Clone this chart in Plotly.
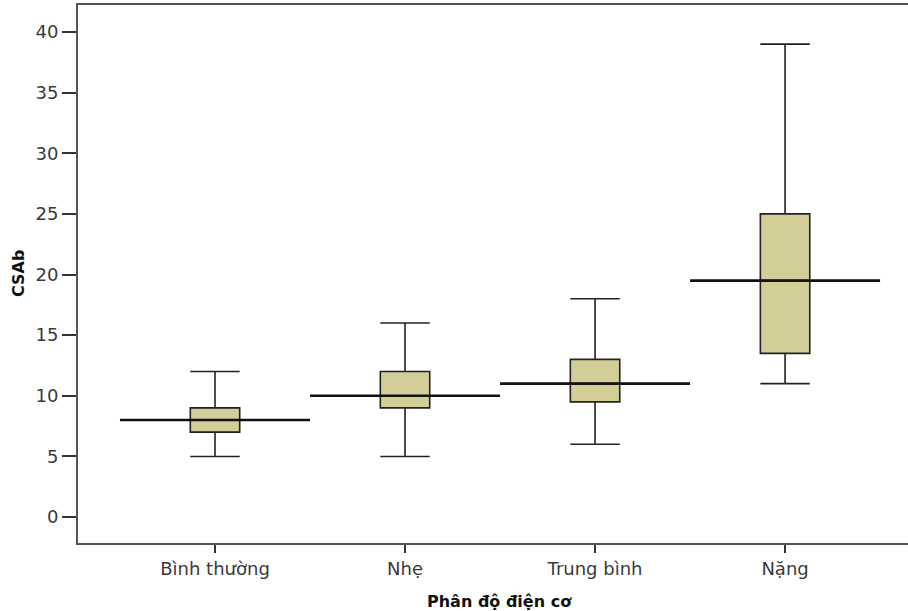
import plotly.graph_objects as go

categories = ["Bình thường", "Nhẹ", "Trung bình", "Nặng"]
lower = [5, 5, 6, 11]
q1 = [7, 9, 9.5, 13.5]
median = [8, 10, 11, 19.5]
q3 = [9, 12, 13, 25]
upper = [12, 16, 18, 39]
y_ticks = [0, 5, 10, 15, 20, 25, 30, 35, 40]

pos = list(range(len(categories)))

fig = go.Figure()
fig.add_trace(go.Box(
    x=pos, q1=q1, median=median, q3=q3, lowerfence=lower, upperfence=upper,
    width=0.26, whiskerwidth=1, fillcolor="#D3CE98",
    line=dict(color="#222222", width=1.6), boxpoints=False, showlegend=False,
    hoverinfo="skip",
))
# wide median lines
mx, my = [], []
for i, m in zip(pos, median):
    mx += [i - 0.5, i + 0.5, None]
    my += [m, m, None]
fig.add_trace(go.Scatter(x=mx, y=my, mode="lines", line=dict(color="#111111", width=2.6),
                         showlegend=False, hoverinfo="skip"))

fig.update_layout(
    width=908, height=611, margin=dict(l=78, r=0, t=5, b=68),
    plot_bgcolor="white", paper_bgcolor="white",
    font=dict(family="DejaVu Sans", size=18, color="#3a3a3a"),
    xaxis=dict(range=[-0.721, 3.647], tickmode="array", tickvals=pos, ticktext=categories,
               showgrid=False, zeroline=False, showline=True, linecolor="#555555", linewidth=2,
               mirror=True, ticks="outside", ticklen=8, tickwidth=2, tickcolor="#333333",
               tickfont=dict(size=18)),
    yaxis=dict(range=[-2.14, 42.23], tickmode="array", tickvals=y_ticks,
               showgrid=False, zeroline=False, showline=True, linecolor="#555555", linewidth=2,
               ticks="outside", ticklen=14, tickwidth=1.5, tickcolor="#333333",
               tickfont=dict(size=18)),
    annotations=[
        dict(text="<b>Phân độ điện cơ</b>", xref="paper", yref="paper", x=0.5, y=0,
             xanchor="center", yanchor="middle", xshift=6.5, yshift=-58, showarrow=False,
             font=dict(family="DejaVu Sans", size=16, color="#111111")),
        dict(text="<b>CSAb</b>", xref="paper", yref="paper", x=0, y=0.5, textangle=-90,
             xanchor="center", yanchor="middle", xshift=-60, showarrow=False,
             font=dict(family="DejaVu Sans", size=16, color="#111111")),
    ],
)
fig.write_html("out.html")
